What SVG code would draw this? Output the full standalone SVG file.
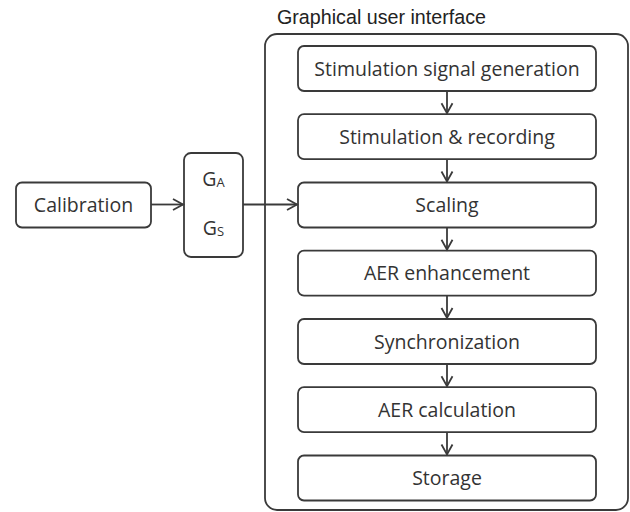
<svg xmlns="http://www.w3.org/2000/svg" width="630" height="512" viewBox="0 0 630 512">
  <defs>
    <style>
      .box { fill: #ffffff; stroke: #3a3a3a; stroke-width: 1.8; }
      .outer { fill: none; stroke: #3a3a3a; stroke-width: 1.8; }
      .lbl { font-family: "Open Sans", "Liberation Sans", sans-serif; font-size: 19.5px; fill: #333333; text-anchor: middle; }
      .sub { font-size: 13px; }
      .title { font-family: "Liberation Sans", Arial, sans-serif; font-size: 19.7px; fill: #222222; }
      .conn { fill: none; stroke: #3a3a3a; stroke-width: 1.8; }
    </style>
    <marker id="arr" markerUnits="userSpaceOnUse" markerWidth="14" markerHeight="14" viewBox="0 0 14 14" refX="11" refY="7" orient="auto">
      <path d="M1,1.5 L11,7 L1,12.5" fill="none" stroke="#3a3a3a" stroke-width="1.8"/>
    </marker>
  </defs>
  <rect width="630" height="512" fill="#ffffff"/>

  <g id="gui">
    <text class="title" x="277" y="23.5">Graphical user interface</text>
    <rect class="outer" x="265" y="34" width="363" height="476" rx="12"/>
  </g>

  <g id="calibration">
    <rect class="box" x="16" y="182.5" width="135" height="45" rx="6"/>
    <text class="lbl" x="83.5" y="212">Calibration</text>
  </g>

  <g id="gains">
    <rect class="box" x="184" y="153" width="59" height="104" rx="7"/>
    <text class="lbl" x="213.5" y="185.5">G<tspan class="sub" dy="1.5">A</tspan></text>
    <text class="lbl" x="213.5" y="234.5">G<tspan class="sub" dy="1.5">S</tspan></text>
  </g>

  <g id="n1">
    <rect class="box" x="298" y="46" width="298" height="45" rx="6"/>
    <text class="lbl" x="447" y="75.5">Stimulation signal generation</text>
  </g>
  <g id="n2">
    <rect class="box" x="298" y="114.2" width="298" height="45" rx="6"/>
    <text class="lbl" x="447" y="143.7">Stimulation &amp; recording</text>
  </g>
  <g id="n3">
    <rect class="box" x="298" y="182.5" width="298" height="45" rx="6"/>
    <text class="lbl" x="447" y="212">Scaling</text>
  </g>
  <g id="n4">
    <rect class="box" x="298" y="250.7" width="298" height="45" rx="6"/>
    <text class="lbl" x="447" y="280.2">AER enhancement</text>
  </g>
  <g id="n5">
    <rect class="box" x="298" y="319" width="298" height="45" rx="6"/>
    <text class="lbl" x="447" y="348.5">Synchronization</text>
  </g>
  <g id="n6">
    <rect class="box" x="298" y="387.2" width="298" height="45" rx="6"/>
    <text class="lbl" x="447" y="416.7">AER calculation</text>
  </g>
  <g id="n7">
    <rect class="box" x="298" y="455.5" width="298" height="45" rx="6"/>
    <text class="lbl" x="447" y="485">Storage</text>
  </g>

  <g id="connectors">
    <line class="conn" x1="151" y1="204.5" x2="183" y2="204.5" marker-end="url(#arr)"/>
    <line class="conn" x1="243" y1="204.5" x2="297" y2="204.5" marker-end="url(#arr)"/>
    <line class="conn" x1="447" y1="91" x2="447" y2="113.2" marker-end="url(#arr)"/>
    <line class="conn" x1="447" y1="159.2" x2="447" y2="181.5" marker-end="url(#arr)"/>
    <line class="conn" x1="447" y1="227.5" x2="447" y2="249.7" marker-end="url(#arr)"/>
    <line class="conn" x1="447" y1="295.7" x2="447" y2="318" marker-end="url(#arr)"/>
    <line class="conn" x1="447" y1="364" x2="447" y2="386.2" marker-end="url(#arr)"/>
    <line class="conn" x1="447" y1="432.2" x2="447" y2="454.5" marker-end="url(#arr)"/>
  </g>
</svg>
